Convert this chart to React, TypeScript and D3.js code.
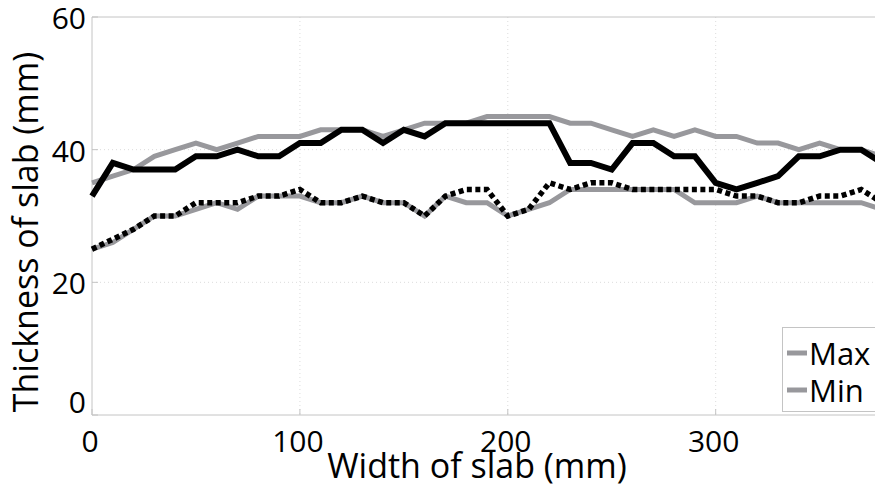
import React from 'react';
import * as d3 from 'd3';

// slab width positions (mm)
const widthMm = [0, 10, 20, 30, 40, 50, 60, 70, 80, 90, 100, 110, 120, 130, 140, 150, 160, 170, 180, 190,
  200, 210, 220, 230, 240, 250, 260, 270, 280, 290, 300, 310, 320, 330, 340, 350, 360, 370, 380];

const maxGray = [35, 36, 37, 39, 40, 41, 40, 41, 42, 42, 42, 43, 43, 43, 42, 43, 44, 44, 44, 45,
  45, 45, 45, 44, 44, 43, 42, 43, 42, 43, 42, 42, 41, 41, 40, 41, 40, 40, 39];
const minGray = [25, 26, 28, 30, 30, 31, 32, 31, 33, 33, 33, 32, 32, 33, 32, 32, 30, 33, 32, 32,
  30, 31, 32, 34, 34, 34, 34, 34, 34, 32, 32, 32, 33, 32, 32, 32, 32, 32, 31];
const maxBlack = [33, 38, 37, 37, 37, 39, 39, 40, 39, 39, 41, 41, 43, 43, 41, 43, 42, 44, 44, 44,
  44, 44, 44, 38, 38, 37, 41, 41, 39, 39, 35, 34, 35, 36, 39, 39, 40, 40, 38];
const minBlack = [25, 26.5, 28, 30, 30, 32, 32, 32, 33, 33, 34, 32, 32, 33, 32, 32, 30, 33, 34, 34,
  30, 31, 35, 34, 35, 35, 34, 34, 34, 34, 34, 33, 33, 32, 32, 33, 33, 34, 32];

const xTicks = [0, 100, 200, 300];
const yTicks = [0, 20, 40, 60];
const legendLabels = ['Max', 'Min'];

const W = 875;
const H = 488;
const font = '"Open Sans", "Noto Sans", sans-serif';
const gray = '#98989c';
const frame = '#c4c4c4';

export default function App() {
  const x = d3.scaleLinear().domain([0, 380]).range([92, 882]);
  const y = d3.scaleLinear().domain([0, 60]).range([415, 17]);

  const line = (vals: number[]) =>
    d3.line<number>()
      .x((_, i) => x(widthMm[i]))
      .y(d => y(d))(vals) || '';

  const [x0, x1] = x.range();
  const [y0, y1] = y.range();

  return (
    <svg width={W} height={H} style={{ position: 'absolute', left: 0, top: 0, background: '#fff' }}>
      {/* grid */}
      {xTicks.filter(t => t > 0).map(t => (
        <line key={'gx' + t} x1={x(t)} x2={x(t)} y1={y1} y2={y0}
          stroke="#dcdcdc" strokeWidth={1} strokeDasharray="1,3" />
      ))}
      {yTicks.filter(t => t > 0 && t < 60).map(t => (
        <line key={'gy' + t} x1={x0} x2={x1} y1={y(t)} y2={y(t)}
          stroke="#dcdcdc" strokeWidth={1} strokeDasharray="1,3" />
      ))}

      {/* frame + ticks */}
      <line x1={x0} x2={x1} y1={y0} y2={y0} stroke={frame} />
      <line x1={x0} x2={x1} y1={y1} y2={y1} stroke={frame} />
      <line x1={x0} x2={x0} y1={y0} y2={y1} stroke={frame} />
      {xTicks.map(t => (
        <line key={'tx' + t} x1={x(t)} x2={x(t)} y1={y0} y2={y0 - 6} stroke={frame} />
      ))}
      {yTicks.map(t => (
        <line key={'ty' + t} x1={x0} x2={x0 + 6} y1={y(t)} y2={y(t)} stroke={frame} />
      ))}

      {/* series */}
      <path d={line(maxGray)} fill="none" stroke={gray} strokeWidth={5} />
      <path d={line(minGray)} fill="none" stroke={gray} strokeWidth={5} />
      <path d={line(maxBlack)} fill="none" stroke="#000" strokeWidth={6} />
      <path d={line(minBlack)} fill="none" stroke="#000" strokeWidth={5.5} strokeDasharray="5,3.5" />

      {/* tick labels */}
      {xTicks.map(t => (
        <text key={'lx' + t} x={x(t) - 2} y={452} textAnchor="middle"
          fontFamily={font} fontSize={30} fill="#000">{t}</text>
      ))}
      {yTicks.map(t => (
        <text key={'ly' + t} x={86} y={t === 0 ? 413 : y(t) + 12} textAnchor="end"
          fontFamily={font} fontSize={30} fill="#000">{t}</text>
      ))}

      {/* axis titles */}
      <text x={477} y={478} textAnchor="middle" fontFamily={font} fontSize={34} fill="#000">
        Width of slab (mm)
      </text>
      <text transform="translate(38,232) rotate(-90)" textAnchor="middle"
        fontFamily={font} fontSize={34} fill="#000">
        Thickness of slab (mm)
      </text>

      {/* legend */}
      <rect x={782.5} y={327.5} width={120} height={84} fill="#fff" stroke={frame} />
      {legendLabels.map((lab, i) => (
        <g key={lab} transform={`translate(0,${i * 37})`}>
          <line x1={787} x2={807} y1={353} y2={353} stroke={gray} strokeWidth={5} />
          <text x={809} y={365} fontFamily={font} fontSize={31} fill="#000">{lab}</text>
        </g>
      ))}
    </svg>
  );
}
